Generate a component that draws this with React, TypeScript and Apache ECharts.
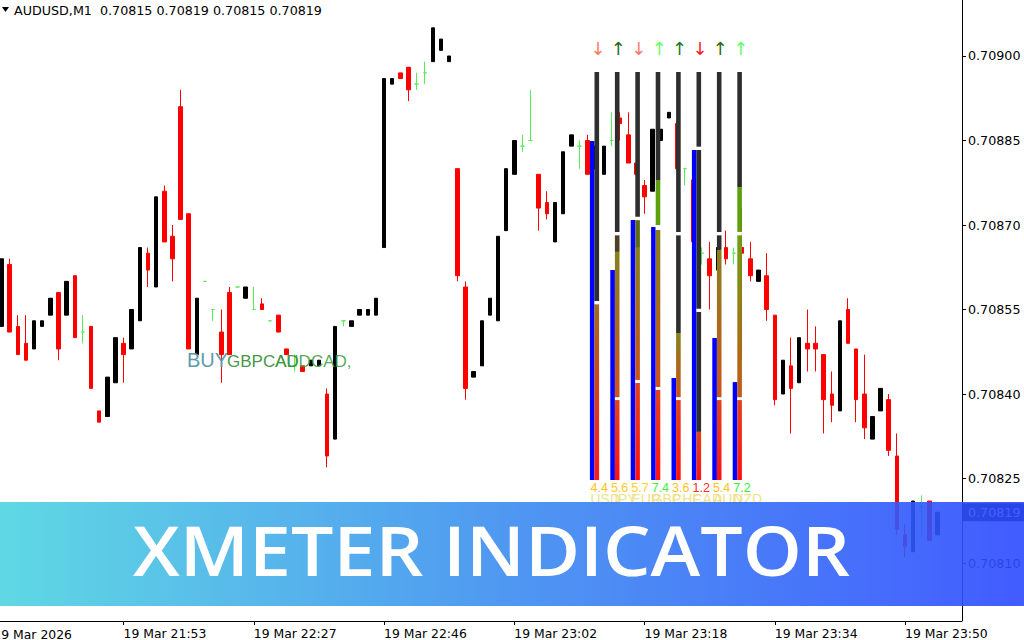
import React, { useEffect, useRef } from 'react';
import * as echarts from 'echarts';

const symbol = 'AUDUSD';
const timeframe = 'M1';

// candles: index 0..115
const opens = [0.70852,0.70863,0.70852,0.70849,0.70848,0.70852,0.70854,0.70858,0.70854,0.70861,0.70851,0.70852,0.70837,0.70836,0.70842,0.70849,0.70848,0.70853,0.70865,0.70859,0.70876,0.70868,0.70891,0.70872,0.70847,0.70860,0.70855,0.70851,0.70858,0.70859,0.70857,0.70855,0.70856,0.70853,0.70854,0.70848,0.70845,0.70845,0.70845,0.70845,0.70840,0.70832,0.70853,0.70852,0.70854,0.70854,0.70854,0.70866,0.70895,0.70897,0.70898,0.70895,0.70897,0.70899,0.70901,0.70899,0.70880,0.70859,0.70843,0.70845,0.70854,0.70853,0.70869,0.70879,0.70884,0.70885,0.70879,0.70874,0.70867,0.70872,0.70884,0.70884,0.70885,0.70880,0.70879,0.70885,0.70889,0.70886,0.70881,0.70877,0.70876,0.70885,0.70889,0.70888,0.70880,0.70878,0.70865,0.70864,0.70862,0.70866,0.70865,0.70866,0.70864,0.70860,0.70861,0.70854,0.70840,0.70845,0.70842,0.70849,0.70849,0.70847,0.70840,0.70837,0.70855,0.70848,0.70840,0.70832,0.70837,0.70839,0.70829,0.70815,0.70812,0.70820,0.70821,0.70815];
const closes = [0.70864,0.70851,0.70847,0.70846,0.70853,0.70853,0.70857,0.70848,0.70860,0.70850,0.70851,0.70841,0.70835,0.70843,0.70850,0.70847,0.70855,0.70866,0.70862,0.70875,0.70867,0.70864,0.70871,0.70848,0.70857,0.70860,0.70855,0.70847,0.70847,0.70859,0.70859,0.70855,0.70855,0.70853,0.70851,0.70847,0.70845,0.70844,0.70846,0.70846,0.70829,0.70852,0.70853,0.70853,0.70855,0.70855,0.70857,0.70896,0.70896,0.70896,0.70894,0.70895,0.70897,0.70905,0.70903,0.70900,0.70861,0.70841,0.70844,0.70853,0.70857,0.70868,0.70880,0.70885,0.70884,0.70885,0.70873,0.70872,0.70874,0.70883,0.70886,0.70884,0.70879,0.70884,0.70884,0.70885,0.70888,0.70881,0.70879,0.70875,0.70887,0.70887,0.70890,0.70880,0.70880,0.70867,0.70865,0.70861,0.70866,0.70864,0.70865,0.70865,0.70861,0.70862,0.70855,0.70839,0.70846,0.70841,0.70850,0.70848,0.70848,0.70839,0.70838,0.70853,0.70849,0.70839,0.70834,0.70836,0.70841,0.70830,0.70816,0.70813,0.70821,0.70820,0.70814,0.70819];
const lows = [0.70852,0.70851,0.70847,0.70846,0.70848,0.70852,0.70854,0.70846,0.70854,0.70850,0.70849,0.70841,0.70835,0.70836,0.70842,0.70842,0.70848,0.70853,0.70859,0.70859,0.70867,0.70860,0.70871,0.70848,0.70847,0.70860,0.70853,0.70842,0.70847,0.70859,0.70857,0.70855,0.70855,0.70853,0.70851,0.70847,0.70844,0.70844,0.70845,0.70845,0.70827,0.70832,0.70852,0.70852,0.70854,0.70854,0.70854,0.70866,0.70895,0.70896,0.70892,0.70894,0.70895,0.70899,0.70901,0.70899,0.70860,0.70839,0.70843,0.70845,0.70854,0.70853,0.70869,0.70879,0.70883,0.70885,0.70869,0.70871,0.70867,0.70872,0.70884,0.70880,0.70879,0.70880,0.70879,0.70884,0.70885,0.70881,0.70879,0.70872,0.70876,0.70885,0.70889,0.70880,0.70877,0.70867,0.70863,0.70855,0.70862,0.70863,0.70863,0.70846,0.70860,0.70860,0.70853,0.70838,0.70840,0.70833,0.70842,0.70844,0.70844,0.70833,0.70835,0.70837,0.70849,0.70835,0.70832,0.70832,0.70837,0.70829,0.70815,0.70811,0.70812,0.70815,0.70814,0.70815];
const highs = [0.70864,0.70864,0.70854,0.70854,0.70853,0.70853,0.70857,0.70858,0.70860,0.70861,0.70854,0.70852,0.70837,0.70843,0.70850,0.70850,0.70855,0.70866,0.70866,0.70875,0.70877,0.70870,0.70894,0.70872,0.70857,0.70860,0.70855,0.70855,0.70859,0.70859,0.70859,0.70859,0.70857,0.70853,0.70854,0.70848,0.70847,0.70845,0.70846,0.70846,0.70841,0.70852,0.70853,0.70853,0.70855,0.70855,0.70857,0.70896,0.70896,0.70897,0.70898,0.70897,0.70899,0.70905,0.70903,0.70900,0.70880,0.70860,0.70844,0.70853,0.70857,0.70868,0.70880,0.70885,0.70886,0.70894,0.70879,0.70876,0.70874,0.70883,0.70886,0.70885,0.70886,0.70884,0.70884,0.70890,0.70890,0.70890,0.70881,0.70878,0.70887,0.70887,0.70890,0.70888,0.70880,0.70878,0.70866,0.70867,0.70866,0.70869,0.70866,0.70873,0.70867,0.70862,0.70865,0.70854,0.70846,0.70850,0.70850,0.70855,0.70852,0.70847,0.70844,0.70853,0.70857,0.70848,0.70847,0.70836,0.70841,0.70840,0.70833,0.70817,0.70821,0.70822,0.70821,0.70819];

const timeLabels = ['19 Mar 2026', '19 Mar 21:53', '19 Mar 22:27', '19 Mar 22:46', '19 Mar 23:02', '19 Mar 23:18', '19 Mar 23:34', '19 Mar 23:50'];
const timeLabelIndex = [-1, 15, 31, 47, 63, 79, 95, 111];
const slotCount = 119;

const priceTicks = [0.7081, 0.70825, 0.7084, 0.70855, 0.7087, 0.70885, 0.709];
const priceMin = 0.7079971;
const priceMax = 0.7090994;

// XMeter panel
const currencies = ['USD', 'JPY', 'EUR', 'GBP', 'CHF', 'CAD', 'AUD', 'NZD'];
const strength = ['4.4', '5.6', '5.7', '7.4', '3.6', '1.2', '5.4', '7.2'];
const strengthColors = ['#ffc21a', '#ffcc22', '#ffd21e', '#44ee44', '#ffc21a', '#ff2a2a', '#ffc21a', '#33ee33'];
const arrows = ['↓', '↑', '↓', '↑', '↑', '↓', '↑', '↑'];
const arrowColors = ['#ff7a66', '#1f6e12', '#ff7a66', '#66ff66', '#1a7a2a', '#ff2222', '#2c6a14', '#66ff66'];
const blueLevel = [83.1, 51.5, 63.7, 62.0, 25.0, 80.9, 34.8, 24.0];
const segUSD: [number, string][] = [[43.1, 'warmRed'], [0.8, 'gap'], [56.1, 'dark']];
const segJPY: [number, string][] = [[19.6, 'red'], [0.7, 'gap'], [35.6, 'warm'], [4.1, 'brown'], [0.8, 'gap'], [39.2, 'dark']];
const segEUR: [number, string][] = [[23.8, 'red'], [0.7, 'gap'], [32.4, 'warm'], [6.8, 'olive'], [0.8, 'gap'], [35.5, 'dark']];
const segGBP: [number, string][] = [[22.1, 'red'], [0.7, 'gap'], [38.5, 'warm'], [1.2, 'gap'], [11.0, 'green'], [26.5, 'dark']];
const segCHF: [number, string][] = [[19.6, 'red'], [0.7, 'gap'], [15.7, 'warm'], [24.0, 'dark'], [0.8, 'gap'], [39.2, 'dark']];
const segCAD: [number, string][] = [[11.8, 'red'], [29.4, 'dark'], [0.8, 'gap'], [38.9, 'dark'], [0.8, 'gap'], [18.3, 'dark']];
const segAUD: [number, string][] = [[19.6, 'red'], [0.7, 'gap'], [36.1, 'warm'], [3.6, 'dark'], [0.8, 'gap'], [39.2, 'dark']];
const segNZD: [number, string][] = [[19.6, 'red'], [0.7, 'gap'], [39.7, 'warmGreen'], [0.8, 'gap'], [11.0, 'green'], [28.2, 'dark']];

const grad = (top: string, bottom: string) => ({
  type: 'linear', x: 0, y: 0, x2: 0, y2: 1,
  colorStops: [{ offset: 0, color: top }, { offset: 1, color: bottom }],
});
const segColor = (k: string): any => {
  switch (k) {
    case 'dark': return '#2e2e2e';
    case 'gap': return '#ffffff';
    case 'red': return grad('#e2421c', '#ff1010');
    case 'warm': return grad('#86801c', '#cc5418');
    case 'warmRed': return grad('#a26c1e', '#ff1818');
    case 'warmGreen': return grad('#6aa012', '#c25a18');
    case 'brown': return '#4e4024';
    case 'olive': return '#5c6a18';
    case 'green': return '#5ca010';
    default: return '#2e2e2e';
  }
};

const GRID_LEFT = 1.5;
const GRID_RIGHT = 62;

export default function App() {
  const ref = useRef<HTMLDivElement>(null);
  useEffect(() => {
    if (!ref.current) return;
    const chart = echarts.init(ref.current, undefined, { renderer: 'svg' });
    const slots: string[] = [];
    for (let i = 0; i < slotCount; i++) slots.push(String(i));
    const candleData = slots.map((s) => {
      const i = Number(s);
      if (i >= opens.length) return '-';
      const o = opens[i], c = closes[i];
      const item: any = { value: [o, c, lows[i], highs[i]] };
      if (o === c) {
        item.itemStyle = { color: '#55ee55', color0: '#55ee55', borderColor: '#55ee55', borderColor0: '#55ee55', borderColorDoji: '#55ee55' };
      }
      return item;
    });
    const labelAt = (idx: number) => {
      const k = timeLabelIndex.indexOf(idx);
      return k >= 0 ? timeLabels[k] : '';
    };
    const isLabelSlot = (index: number) => timeLabelIndex.indexOf(index) >= 0;
    const slotW = (1024 - GRID_RIGHT - GRID_LEFT) / (slotCount - 1);
    const offAxisLabels = timeLabelIndex
      .map((idx, k) => ({ idx, k }))
      .filter((e) => e.idx < 0)
      .map((e) => ({
        type: 'text', x: GRID_LEFT + e.idx * slotW, y: 628, z: 10,
        style: { text: timeLabels[e.k], fill: '#000', font: '12.4px "DejaVu Sans"', verticalAlign: 'top' },
      }));

    const last = opens.length - 1;
    const lastClose = closes[last];
    const fmt = (v: number) => v.toFixed(5);

    const columns = [segUSD, segJPY, segEUR, segGBP, segCHF, segCAD, segAUD, segNZD];
    const maxSeg = Math.max(...columns.map((c) => c.length));
    const segSeries: any[] = [];
    for (let k = 0; k < maxSeg; k++) {
      segSeries.push({
        type: 'bar', xAxisIndex: 1, yAxisIndex: 1, stack: 'meter', barWidth: 4.6, z: 5,
        data: columns.map((col) => (col[k] ? { value: col[k][0], itemStyle: { color: segColor(col[k][1]) } } : '-')),
      });
    }
    const valueRich: any = { n: { color: '#f0e28a', fontSize: 14, lineHeight: 12, fontFamily: 'Liberation Sans' } };
    strengthColors.forEach((c, i) => { valueRich['v' + i] = { color: c, fontSize: 12.5, lineHeight: 11, fontFamily: 'Liberation Sans' }; });
    const arrowRich: any = {};
    arrowColors.forEach((c, i) => { arrowRich['a' + i] = { color: c, fontSize: 18, fontFamily: 'DejaVu Sans', padding: [0, 0, 0, 7] }; });

    chart.setOption({
      animation: false,
      backgroundColor: '#ffffff',
      grid: [
        { left: GRID_LEFT, right: GRID_RIGHT, top: 0, bottom: 19, outerBoundsMode: 'none', containLabel: false },
        { left: 584.3, width: 163.2, top: 72, height: 408, outerBoundsMode: 'none', containLabel: false },
        { left: 580.3, width: 163.2, top: 72, height: 408, outerBoundsMode: 'none', containLabel: false },
      ],
      xAxis: [
        {
          type: 'category', gridIndex: 0, data: slots, boundaryGap: false,
          axisLine: { show: false },
          axisTick: { show: true, interval: (i: number) => isLabelSlot(i), length: 4, lineStyle: { color: '#000' } },
          axisLabel: {
            interval: (i: number) => isLabelSlot(i), formatter: (v: string) => labelAt(Number(v)),
            align: 'left', color: '#000', fontSize: 12.4, fontFamily: 'DejaVu Sans', margin: 6,
          },
          splitLine: { show: false },
        },
        {
          type: 'category', gridIndex: 1, data: currencies, position: 'top',
          axisLine: { show: false }, axisTick: { show: false },
          axisLabel: {
            interval: 0, margin: 15,
            formatter: (v: string) => { const i = currencies.indexOf(v); return `{a${i}|${arrows[i]}}`; },
            rich: arrowRich,
          },
        },
        {
          type: 'category', gridIndex: 2, data: currencies, position: 'bottom',
          axisLine: { show: false }, axisTick: { show: false },
          axisLabel: {
            interval: 0, margin: 2, align: 'left',
            formatter: (v: string) => { const i = currencies.indexOf(v); return `{v${i}|${strength[i]}}\n{n|${v}}`; },
            rich: valueRich,
          },
        },
      ],
      yAxis: [
        {
          type: 'value', gridIndex: 0, position: 'right', min: priceMin, max: priceMax, scale: true,
          axisLine: { show: true, lineStyle: { color: '#000', width: 1 } },
          axisTick: { show: true, customValues: priceTicks, length: 4, lineStyle: { color: '#000' } },
          axisLabel: {
            customValues: [...priceTicks, lastClose], margin: 0,
            formatter: (v: number) => (Math.abs(v - lastClose) < 1e-9 ? `{cur|${fmt(v)}}` : `{n|${fmt(v)}}`),
            rich: {
              n: { color: '#000', fontSize: 12.7, fontFamily: 'DejaVu Sans', padding: [0, 0, 0, 6] },
              cur: { color: '#ffffff', backgroundColor: '#000000', fontSize: 12.7, fontFamily: 'DejaVu Sans', padding: [3, 8, 2, 6] },
            },
          },
          splitLine: { show: false },
        },
        { type: 'value', gridIndex: 1, min: 0, max: 100, show: false },
        { type: 'value', gridIndex: 2, min: 0, max: 100, show: false },
      ],
      series: [
        {
          type: 'candlestick', xAxisIndex: 0, yAxisIndex: 0, data: candleData, barWidth: 4, clip: false,
          itemStyle: { color: '#000000', borderColor: '#000000', color0: '#ff0000', borderColor0: '#ff0000', borderColorDoji: '#55ee55', borderWidth: 1 },
          z: 2,
        },
        {
          type: 'bar', xAxisIndex: 1, yAxisIndex: 1, barWidth: 4.6, barGap: '0%', z: 5,
          data: blueLevel, itemStyle: { color: '#0000ff' },
        },
        ...segSeries,
      ],
      graphic: [
        { type: 'line', shape: { x1: 0, y1: 621.5, x2: 962, y2: 621.5 }, style: { stroke: '#000', lineWidth: 1 }, z: 10 },
        ...offAxisLabels,
        { type: 'polygon', shape: { points: [[2, 7], [9, 7], [5.5, 12]] }, style: { fill: '#000' }, z: 10 },
        {
          type: 'text', x: 14, y: 10, z: 10,
          style: {
            text: `${symbol},${timeframe}  ${fmt(opens[last])} ${fmt(highs[last])} ${fmt(lows[last])} ${fmt(closes[last])}`,
            fill: '#000', font: '12.7px "DejaVu Sans"', verticalAlign: 'middle',
          },
        },
        { type: 'text', x: 187, y: 360, z: 10, style: { text: 'BUY', fill: '#5f9aac', font: '20px "Liberation Sans"', verticalAlign: 'middle' } },
        { type: 'text', x: 227, y: 361, z: 10, style: { text: 'GBPCAD', fill: '#2f8a2f', opacity: 0.9, font: '17px "Liberation Sans"', verticalAlign: 'middle' } },
        { type: 'text', x: 275, y: 361, z: 10, style: { text: 'AUDCAD,', fill: '#3a9a3a', opacity: 0.85, font: '17px "Liberation Sans"', verticalAlign: 'middle' } },
        {
          type: 'rect', shape: { x: 0, y: 502, width: 1024, height: 104 }, z: 100,
          style: {
            opacity: 0.9,
            fill: new echarts.graphic.LinearGradient(0, 0, 1, 0, [
              { offset: 0, color: '#4ed4e0' },
              { offset: 0.5, color: '#3c8cf0' },
              { offset: 1, color: '#2d4aff' },
            ]),
          },
        },
        {
          type: 'text', x: 491.5, y: 549, z: 101, scaleX: 1.09,
          style: { text: 'XMETER INDICATOR', fill: '#ffffff', font: '600 69px "Open Sans"', align: 'center', verticalAlign: 'middle' },
        },
      ],
    });
    return () => chart.dispose();
  }, []);
  return <div ref={ref} style={{ position: 'fixed', left: 0, top: 0, width: 1024, height: 640 }} />;
}
